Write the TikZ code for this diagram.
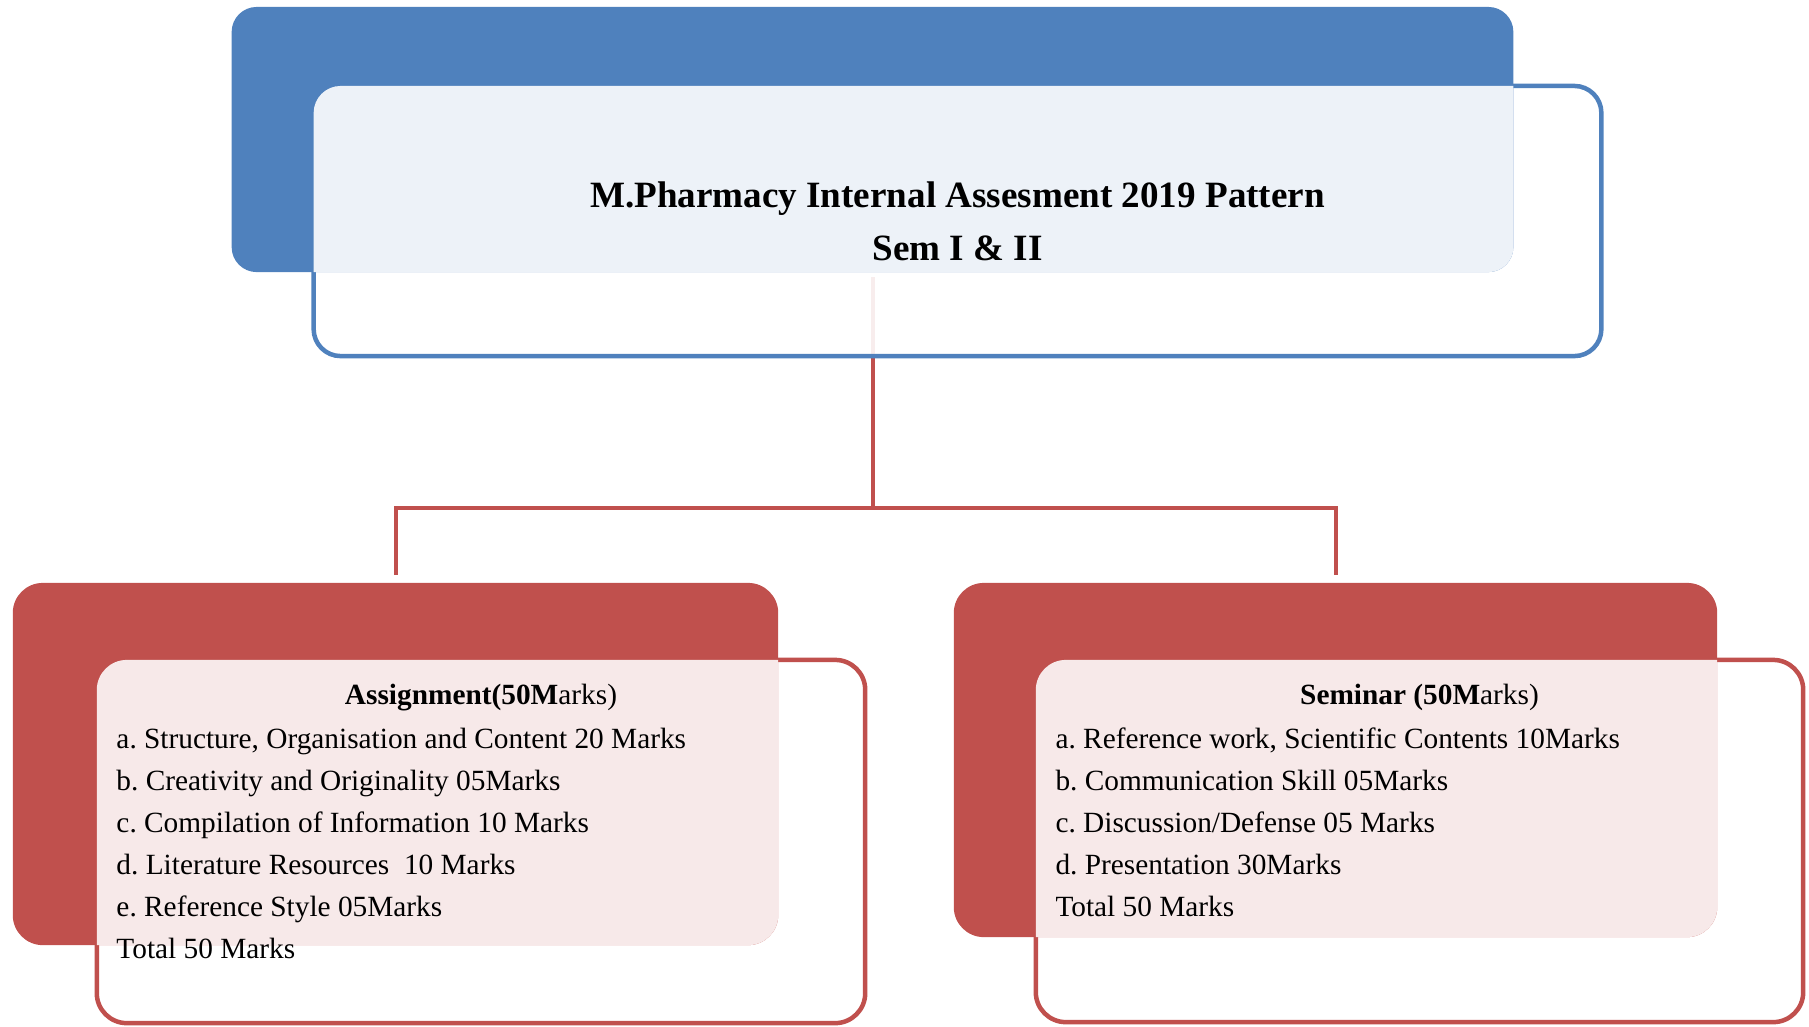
\documentclass[tikz,border=0pt]{standalone}
\usepackage{fontspec}
\setmainfont{Liberation Serif}
\usepackage{tikz}
\usetikzlibrary{positioning,backgrounds}
\usepackage{xcolor}
\frenchspacing
\definecolor{iablue}{RGB}{79,129,189}
\definecolor{iared}{RGB}{192,80,77}
\tikzstyle{link} = [line width=0.04cm, color=iared]
\tikzstyle{framebox} = [rectangle, outer sep=0pt, fill=white, fill opacity=0.9, line width=0.045cm]
\tikzstyle{panelbox} = [rectangle, outer sep=0pt, draw=none]
\tikzstyle{titletext} = [inner sep=0pt, align=center, font=\fontsize{10.55}{15.08}\selectfont\bfseries]
\tikzstyle{headtext} = [inner sep=0pt, font=\fontsize{8.34}{11.95}\selectfont]
\tikzstyle{listtext} = [inner sep=0pt, align=left, font=\fontsize{8.34}{11.95}\selectfont]

\begin{document}
\begin{tikzpicture}[x=0.01cm, y=-0.01cm]
\useasboundingbox (0,0) rectangle (1809,1026);

% Front frames
\node[framebox, draw=iablue, rounded corners=0.27cm, minimum width=12.87cm, minimum height=2.70cm] (titlebox) at (957.5,221) {};
\node[framebox, draw=iared, rounded corners=0.30cm, minimum width=7.68cm, minimum height=3.63cm] (asgbox) at (481,841.5) {};
\node[framebox, draw=iared, rounded corners=0.30cm, minimum width=7.67cm, minimum height=3.62cm] (sembox) at (1419.5,841) {};

% Back panels
\node[panelbox, fill=iablue, rounded corners=0.25cm, minimum width=12.81cm, minimum height=2.65cm] (bluebk) at (872.5,139.5) {};
\node[panelbox, fill=iared, rounded corners=0.30cm, minimum width=7.65cm, minimum height=3.62cm] (asgbk) at (395.5,764) {};
\node[panelbox, fill=iared, rounded corners=0.30cm, minimum width=7.63cm, minimum height=3.54cm] (sembk) at (1335.5,760) {};

% Overlap of frame and panel
\begin{scope}
\clip[rounded corners=0.25cm] (bluebk.south west) rectangle (bluebk.north east);
\fill[white, opacity=0.9, rounded corners=0.27cm] (titlebox.south west) rectangle (titlebox.north east);
\end{scope}
\begin{scope}
\clip[rounded corners=0.30cm] (asgbk.south west) rectangle (asgbk.north east);
\fill[white, opacity=0.88, rounded corners=0.30cm] (asgbox.south west) rectangle (asgbox.north east);
\end{scope}
\begin{scope}
\clip[rounded corners=0.30cm] (sembk.south west) rectangle (sembk.north east);
\fill[white, opacity=0.88, rounded corners=0.30cm] (sembox.south west) rectangle (sembox.north east);
\end{scope}

% Connectors
\coordinate (fork) at (872.5,508);
\begin{pgfonlayer}{background}
\draw[link] ([yshift=-0.05cm]bluebk.south) -- (fork);
\draw[link] ([yshift=0.08cm]asgbk.north) |- (fork) -| ([yshift=0.08cm]sembk.north);
\end{pgfonlayer}

% Texts
\node[titletext] (title) at (titlebox) {M.Pharmacy Internal Assesment 2019 Pattern\\Sem I \& II};

\node[headtext, anchor=base] (asghead) at ([yshift=-0.45cm]asgbox.north) {\textbf{Assignment(50M}arks)};
\node[listtext, anchor=north west] (asglist) at ([xshift=0.19cm, yshift=-0.67cm]asgbox.north west)
  {a. Structure, Organisation and Content 20 Marks\\
   b. Creativity and Originality 05Marks\\
   c. Compilation of Information 10 Marks\\
   d. Literature Resources~ 10 Marks\\
   e. Reference Style 05Marks\\
   Total 50 Marks};

\node[headtext, anchor=base] (semhead) at ([yshift=-0.45cm]sembox.north) {\textbf{Seminar (50M}arks)};
\node[listtext, anchor=north west] (semlist) at ([xshift=0.19cm, yshift=-0.67cm]sembox.north west)
  {a. Reference work, Scientific Contents 10Marks\\
   b. Communication Skill 05Marks\\
   c. Discussion/Defense 05 Marks\\
   d. Presentation 30Marks\\
   Total 50 Marks};
\end{tikzpicture}
\end{document}
